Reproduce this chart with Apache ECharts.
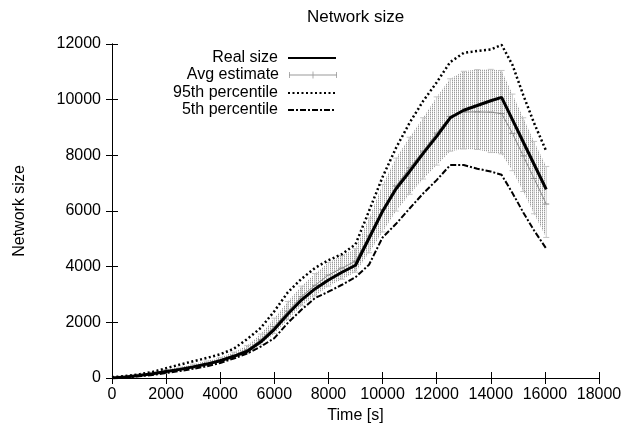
<!DOCTYPE html>
<html><head><meta charset="utf-8">
<script src="https://cdn.jsdelivr.net/npm/echarts@6/dist/echarts.min.js"></script>
<style>html,body{margin:0;padding:0;background:#fff}#c{width:626px;height:430px}</style>
</head><body><div id="c"></div>
<script>
// ---- data ----
const timeS    = [0,500,1000,1500,2000,2500,3000,3500,4000,4500,5000,5500,6000,6500,7000,7500,8000,8500,9000,9500,10000,10500,11000,11500,12000,12500,13000,13500,14000,14400,14800,15200,15600,16050];
const realSize = [0,40,90,150,230,310,400,500,620,780,960,1300,1750,2300,2800,3200,3520,3800,4050,5020,5990,6800,7420,8070,8680,9350,9620,9790,9960,10080,9280,8480,7680,6780];
const p95      = [30,70,130,220,350,480,600,720,850,1050,1400,1800,2400,3080,3560,3950,4230,4450,4800,6000,7220,8270,9170,9950,10620,11350,11680,11750,11800,11970,11250,10170,9160,8150];
const p5       = [0,20,60,110,180,250,330,420,540,700,880,1130,1430,1980,2450,2870,3100,3350,3620,4070,5050,5540,6090,6630,7110,7650,7650,7520,7420,7300,6650,5950,5300,4650];
const avgMean  = [10,45,95,160,240,325,420,525,650,820,1020,1380,1850,2400,2920,3330,3700,3950,4200,5100,6050,6900,7550,8150,8800,9400,9560,9560,9550,9500,8790,7980,7170,6250];
const avgHigh  = [40,80,140,210,300,390,500,610,740,930,1170,1580,2150,2750,3300,3750,4150,4400,4650,5750,6950,7900,8650,9350,10100,10750,11020,11080,11090,11050,10200,9350,8500,7600];
const avgLow   = [0,15,55,110,180,260,340,440,560,710,880,1200,1600,2100,2600,2950,3300,3550,3800,4500,5250,6000,6600,7150,7650,8150,8230,8210,8100,8050,7450,6700,5900,5050];
const xTicks = {min:0, max:18000, step:2000};
const yTicks = {min:0, max:12000, step:2000};
const legendNames = ['Real size','Avg estimate','95th percentile','5th percentile'];

// ---- styles ----
const FONT = '"Liberation Sans", Arial, Helvetica, sans-serif';
const pat = document.createElement('canvas');
pat.width = 2; pat.height = 2;
(function(){const c=pat.getContext('2d');c.fillStyle='#9c9c9c';c.fillRect(0,0,1,1);c.fillStyle='#d6d6d6';c.fillRect(0,1,1,1);})();

const bandData = timeS.map((t,i)=>{
  const j = Math.min(i+1, timeS.length-1);
  return [t, avgLow[i], avgHigh[i], avgMean[i], timeS[j], avgLow[j], avgHigh[j], avgMean[j]];
});

function renderBand(params, api){
  const t0=api.value(0), lo0=api.value(1), hi0=api.value(2), m0=api.value(3);
  const t1=api.value(4), lo1=api.value(5), hi1=api.value(6), m1=api.value(7);
  const a=api.coord([t0,lo0]), b=api.coord([t0,hi0]), c=api.coord([t1,hi1]), d=api.coord([t1,lo1]);
  const pm0=api.coord([t0,m0]), pm1=api.coord([t1,m1]);
  const ch = [];
  if (t1 > t0) {
    ch.push({type:'polygon', shape:{points:[a,b,c,d]}, style:{fill:{image:pat, repeat:'repeat'}, stroke:null}});
    ch.push({type:'line', shape:{x1:pm0[0],y1:pm0[1],x2:pm1[0],y2:pm1[1]}, style:{stroke:'#8a8a8a', lineWidth:1}});
  }
  ch.push({type:'line', shape:{x1:a[0],y1:a[1],x2:b[0],y2:b[1]}, style:{stroke:'#cfcfcf', lineWidth:1}});
  ch.push({type:'line', shape:{x1:b[0]-3,y1:b[1],x2:b[0]+3,y2:b[1]}, style:{stroke:'#c4c4c4', lineWidth:1}});
  ch.push({type:'line', shape:{x1:a[0]-3,y1:a[1],x2:a[0]+3,y2:a[1]}, style:{stroke:'#c4c4c4', lineWidth:1}});
  ch.push({type:'line', shape:{x1:pm0[0]-3,y1:pm0[1],x2:pm0[0]+3,y2:pm0[1]}, style:{stroke:'#8a8a8a', lineWidth:1}});
  return {type:'group', children:ch};
}

const pts = arr => timeS.map((t,i)=>[t, arr[i]]);
const txt = {fontFamily:FONT, fontSize:16, color:'#000'};
const axisCommon = {
  axisLine:{show:true, lineStyle:{color:'#000', width:1}},
  axisTick:{show:true, inside:true, length:6, lineStyle:{color:'#000'}},
  splitLine:{show:false}
};
const lg = (name, top, extra) => Object.assign({
  orient:'vertical', right:284, top:top, align:'right', itemWidth:48, itemHeight:12,
  selectedMode:false, data:[{name:name, itemStyle:{opacity:0}}], textStyle:Object.assign({}, txt, {padding:[0,5,0,0]})
}, extra||{});

const chart = echarts.init(document.getElementById('c'), null, {renderer:'canvas'});
chart.setOption({
  animation:false,
  backgroundColor:'#fff',
  title:{text:'Network size', left:302, top:4, textStyle:{fontFamily:FONT, fontSize:17, fontWeight:'normal', color:'#000'}},
  grid:{left:112, right:27, top:44, bottom:52, containLabel:false},
  legend:[
    lg(legendNames[0], 45),
    lg(legendNames[1], 62, {data:[{name:legendNames[1], icon:'path://M0,4.6h48v0.8h-48z M0,2h0.8v6h-0.8z M47.2,2h0.8v6h-0.8z M23.6,1.5h0.8v7h-0.8z M21,4.6h6v0.8h-6z', itemStyle:{color:'#9a9a9a', opacity:1}}]}),
    lg(legendNames[2], 80),
    lg(legendNames[3], 97)
  ],
  xAxis:[
    Object.assign({type:'value', position:'bottom', min:xTicks.min, max:xTicks.max, interval:xTicks.step,
      name:'Time [s]', nameLocation:'middle', nameGap:28, nameTextStyle:txt,
      axisLabel:Object.assign({}, txt, {margin:9, formatter:v=>String(v)})}, axisCommon),
    Object.assign({type:'value', position:'top', min:xTicks.min, max:xTicks.max, interval:xTicks.step,
      axisLabel:{show:false}}, axisCommon)
  ],
  yAxis:[
    Object.assign({type:'value', position:'left', min:yTicks.min, max:yTicks.max, interval:yTicks.step,
      name:'Network size', nameLocation:'middle', nameGap:84, nameTextStyle:txt,
      axisLabel:Object.assign({}, txt, {margin:11, formatter:v=>String(v)})}, axisCommon),
    Object.assign({type:'value', position:'right', min:yTicks.min, max:yTicks.max, interval:yTicks.step,
      axisLabel:{show:false}}, axisCommon)
  ],
  series:[
    {name:'Avg estimate', type:'custom', renderItem:renderBand, data:bandData,
      encode:{x:[0,4], y:[1,2,3,5,6,7]}, itemStyle:{color:'#999'}, z:1, clip:true},
    {name:'Real size', type:'line', data:pts(realSize), symbol:'none', z:5,
      lineStyle:{color:'#000', width:3}, itemStyle:{color:'#000'}},
    {name:'95th percentile', type:'line', data:pts(p95), symbol:'none', z:4,
      lineStyle:{color:'#000', width:2.5, type:[2,2.5]}, itemStyle:{color:'#000'}},
    {name:'5th percentile', type:'line', data:pts(p5), symbol:'none', z:4,
      lineStyle:{color:'#000', width:2, type:[6,2,2,2]}, itemStyle:{color:'#000'}}
  ]
});
</script></body></html>
